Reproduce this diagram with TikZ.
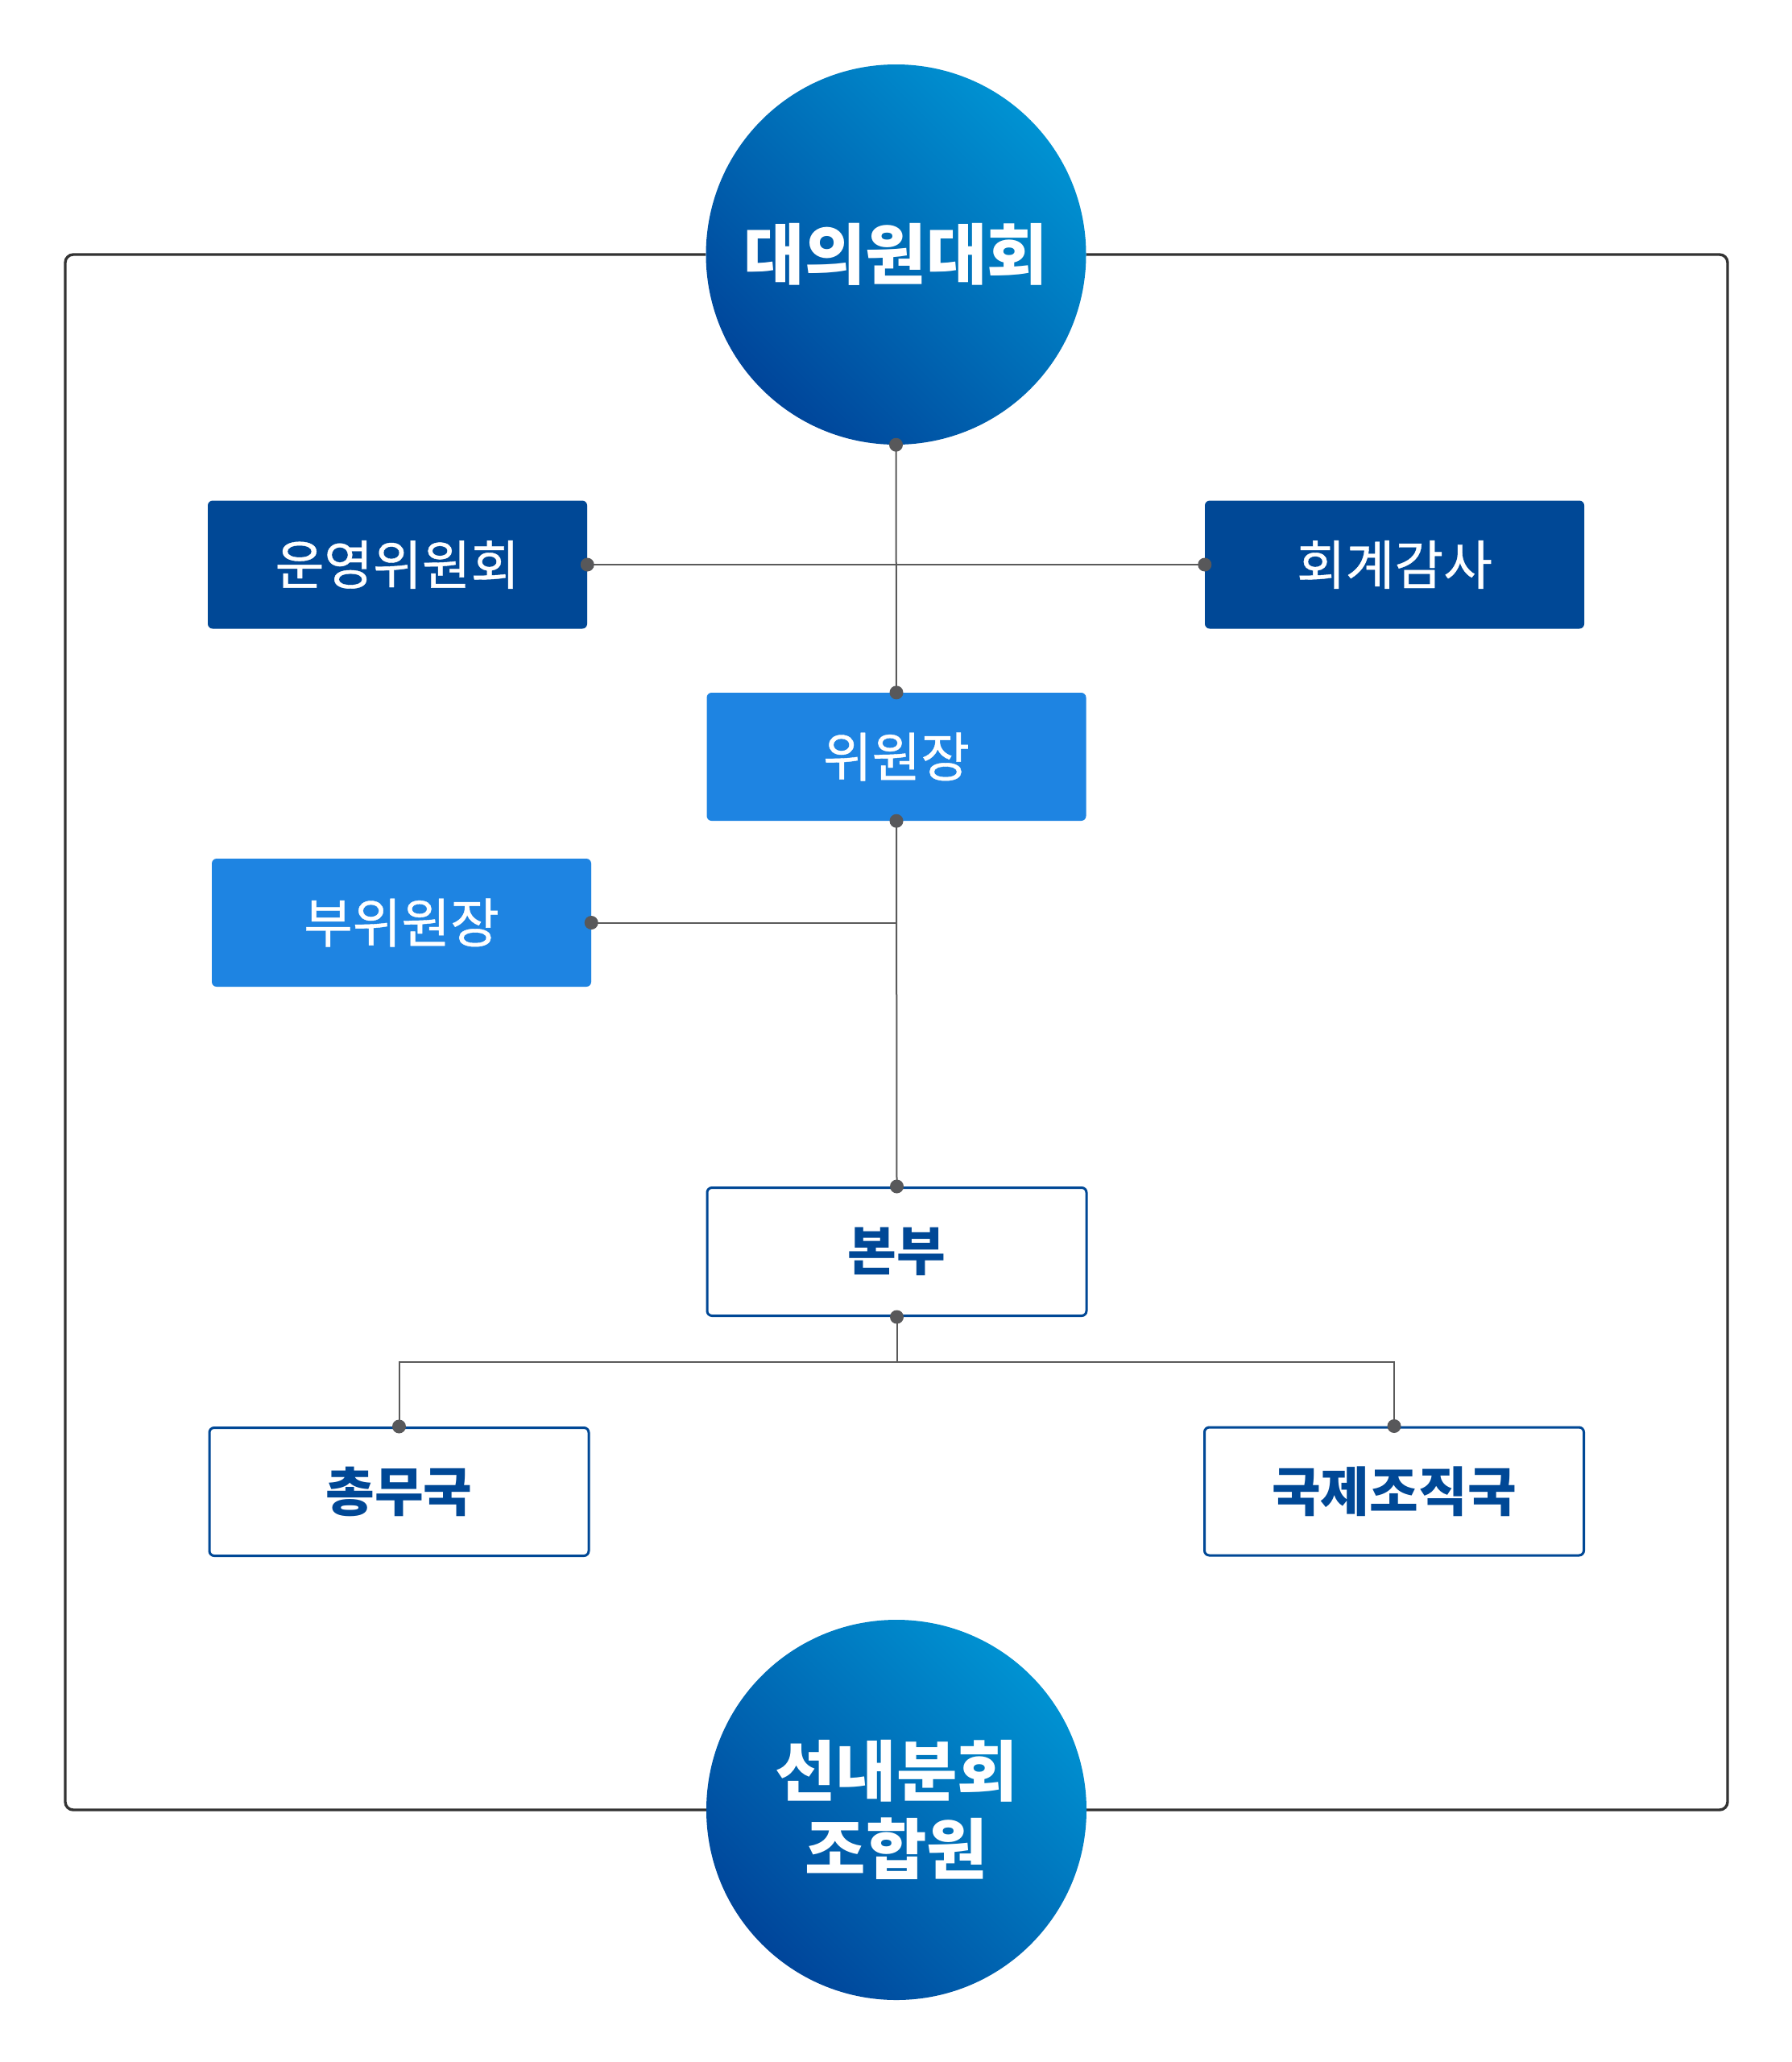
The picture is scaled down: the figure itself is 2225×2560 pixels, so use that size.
\documentclass[tikz,border=0pt]{standalone}
\usepackage{fontspec}
\usetikzlibrary{backgrounds}
\newfontfamily\kr{Noto Sans CJK KR}
\newfontfamily\krmed[FakeBold=0.6]{Noto Sans CJK KR}
\definecolor{navy}{HTML}{004896}
\definecolor{bright}{HTML}{1E84E2}
\definecolor{linec}{HTML}{5A5A5A}
\definecolor{dotc}{HTML}{58585A}
\definecolor{framec}{HTML}{333333}
\definecolor{gdark}{HTML}{00459A}
\definecolor{glight}{HTML}{0092D2}
\tikzset{
  boxbase/.style={rectangle, rounded corners=6pt, minimum width=471pt, minimum height=159pt, inner sep=0pt, font=\krmed\fontsize{66}{72}\selectfont},
  navybox/.style={boxbase, fill=navy, text=white},
  brightbox/.style={boxbase, fill=bright, text=white},
  whitebox/.style={boxbase, fill=white, draw=navy, line width=3pt, text=navy, font=\kr\bfseries\fontsize{66}{72}\selectfont},
  bigcircle/.style={circle, minimum size=472pt, inner sep=0pt, text=white, align=center,
    bottom color=gdark, top color=glight, shading angle=-45,
    font=\kr\bfseries\fontsize{82}{97}\selectfont},
  conn/.style={draw=linec, line width=2pt},
  framel/.style={draw=framec, line width=3.4pt, rounded corners=10pt},
  dot/.style={fill=dotc}
}
\begin{document}
\begin{tikzpicture}[x=1pt,y=-1pt]
\useasboundingbox (0,0) rectangle (2225,2560);
% nodes
\node[bigcircle] (top) at (1112.5,316) {대의원대회};
\node[bigcircle] (bot) at (1113,2247) {선내분회\\조합원};
\node[navybox] (unyeong) at (493.5,701) {운영위원회};
\node[navybox] (hoegye) at (1731.5,701) {회계감사};
\node[brightbox] (chair) at (1113,939.5) {위원장};
\node[brightbox] (vice) at (498.5,1145.5) {부위원장};
\node[whitebox] (hq) at (1113.5,1554) {본부};
\node[whitebox] (admin) at (495.5,1852) {총무국};
\node[whitebox] (intl) at (1731,1851.5) {국제조직국};
% helper coordinates
\coordinate (fl) at (81,1280);
\coordinate (fr) at (2145,1280);
\coordinate (j2) at (1113,1145.5);
\coordinate (j3) at (1113.5,1691);
\begin{scope}[on background layer]
\fill[white] (0,0) rectangle (2225,2560);
\path[framel] (top.west) -| (fl) |- (bot.west);
\path[framel] (top.east) -| (fr) |- (bot.east);
% connectors
\path[conn] (top.south) -- (chair.north);
\path[conn] (unyeong.east) -- (hoegye.west);
\path[conn] (chair.south) -- (hq.north);
\path[conn] (j2) -- (vice.east);
\path[conn] (hq.south) -- (j3);
\path[conn] (j3) -| (admin.north);
\path[conn] (j3) -| (intl.north);
\end{scope}
% dots
\foreach \p in {top.south, chair.north, chair.south, unyeong.east, hoegye.west, vice.east, hq.north, hq.south, admin.north, intl.north}
  \fill[dot] (\p) circle (8.5pt);
\end{tikzpicture}
\end{document}
